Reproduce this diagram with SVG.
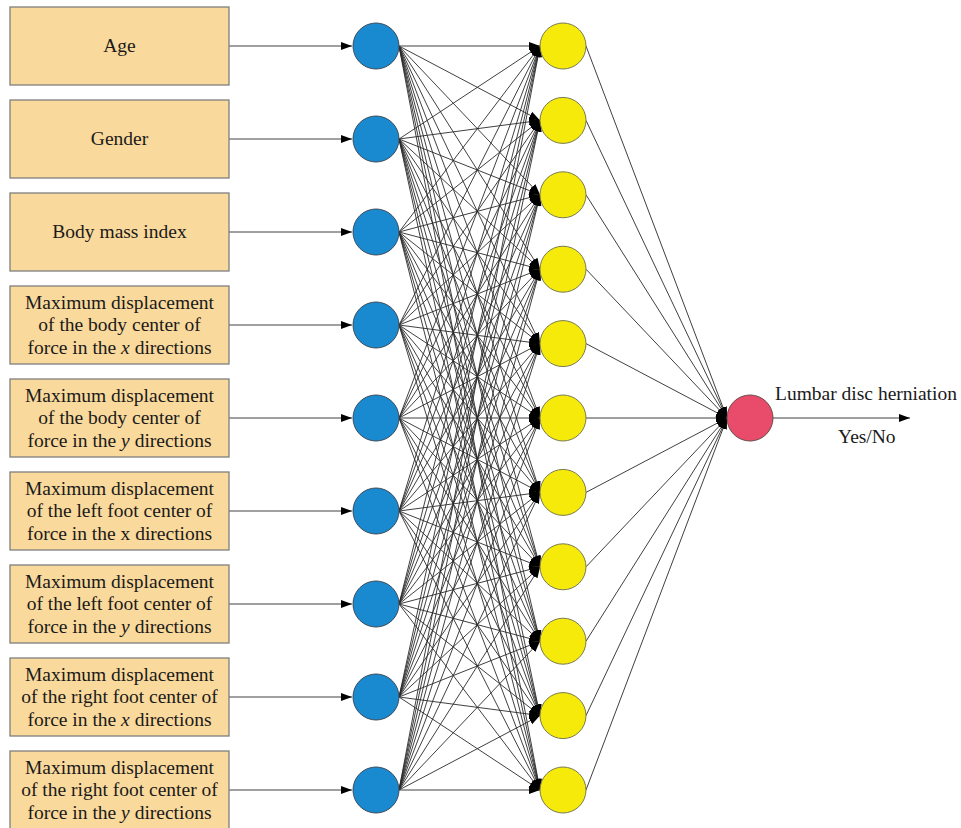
<svg xmlns="http://www.w3.org/2000/svg" width="961" height="828" viewBox="0 0 961 828">
<defs>
<marker id="ah" markerUnits="userSpaceOnUse" markerWidth="12" markerHeight="10" refX="11" refY="4" orient="auto"><path d="M0,0 L11,4 L0,8 Z" fill="#000"/></marker>
<style>
.box{fill:#FAD99C;stroke:#7f7f7f;stroke-width:1.3}
.t{font-family:"Liberation Serif","Times New Roman",serif;font-size:19.5px;fill:#1a1a1a;text-anchor:middle}
.lbl{font-family:"Liberation Serif","Times New Roman",serif;font-size:19.5px;fill:#1a1a1a}
.blue{fill:#1A8AD0;stroke:#3a4a5a;stroke-width:1}
.yel{fill:#F6EA0A;stroke:#7a7a50;stroke-width:1}
.red{fill:#E94B6A;stroke:#6a4a4a;stroke-width:1}
#connectors line{stroke:#2a2a2a;stroke-width:0.9;marker-end:url(#ah)}
</style>
</defs>
<rect width="961" height="828" fill="#fff"/>

<g id="connectors">
<line x1="229" y1="46" x2="352" y2="46"/>
<line x1="229" y1="139" x2="352" y2="139"/>
<line x1="229" y1="232" x2="352" y2="232"/>
<line x1="229" y1="325" x2="352" y2="325"/>
<line x1="229" y1="418" x2="352" y2="418"/>
<line x1="229" y1="511" x2="352" y2="511"/>
<line x1="229" y1="604" x2="352" y2="604"/>
<line x1="229" y1="697" x2="352" y2="697"/>
<line x1="229" y1="790" x2="352" y2="790"/>

<line x1="399" y1="46" x2="540" y2="46"/><line x1="399" y1="46" x2="540" y2="120.4"/><line x1="399" y1="46" x2="540" y2="194.8"/><line x1="399" y1="46" x2="540" y2="269.2"/><line x1="399" y1="46" x2="540" y2="343.6"/><line x1="399" y1="46" x2="540" y2="418"/><line x1="399" y1="46" x2="540" y2="492.4"/><line x1="399" y1="46" x2="540" y2="566.8"/><line x1="399" y1="46" x2="540" y2="641.2"/><line x1="399" y1="46" x2="540" y2="715.6"/><line x1="399" y1="46" x2="540" y2="790"/>
<line x1="399" y1="139" x2="540" y2="46"/><line x1="399" y1="139" x2="540" y2="120.4"/><line x1="399" y1="139" x2="540" y2="194.8"/><line x1="399" y1="139" x2="540" y2="269.2"/><line x1="399" y1="139" x2="540" y2="343.6"/><line x1="399" y1="139" x2="540" y2="418"/><line x1="399" y1="139" x2="540" y2="492.4"/><line x1="399" y1="139" x2="540" y2="566.8"/><line x1="399" y1="139" x2="540" y2="641.2"/><line x1="399" y1="139" x2="540" y2="715.6"/><line x1="399" y1="139" x2="540" y2="790"/>
<line x1="399" y1="232" x2="540" y2="46"/><line x1="399" y1="232" x2="540" y2="120.4"/><line x1="399" y1="232" x2="540" y2="194.8"/><line x1="399" y1="232" x2="540" y2="269.2"/><line x1="399" y1="232" x2="540" y2="343.6"/><line x1="399" y1="232" x2="540" y2="418"/><line x1="399" y1="232" x2="540" y2="492.4"/><line x1="399" y1="232" x2="540" y2="566.8"/><line x1="399" y1="232" x2="540" y2="641.2"/><line x1="399" y1="232" x2="540" y2="715.6"/><line x1="399" y1="232" x2="540" y2="790"/>
<line x1="399" y1="325" x2="540" y2="46"/><line x1="399" y1="325" x2="540" y2="120.4"/><line x1="399" y1="325" x2="540" y2="194.8"/><line x1="399" y1="325" x2="540" y2="269.2"/><line x1="399" y1="325" x2="540" y2="343.6"/><line x1="399" y1="325" x2="540" y2="418"/><line x1="399" y1="325" x2="540" y2="492.4"/><line x1="399" y1="325" x2="540" y2="566.8"/><line x1="399" y1="325" x2="540" y2="641.2"/><line x1="399" y1="325" x2="540" y2="715.6"/><line x1="399" y1="325" x2="540" y2="790"/>
<line x1="399" y1="418" x2="540" y2="46"/><line x1="399" y1="418" x2="540" y2="120.4"/><line x1="399" y1="418" x2="540" y2="194.8"/><line x1="399" y1="418" x2="540" y2="269.2"/><line x1="399" y1="418" x2="540" y2="343.6"/><line x1="399" y1="418" x2="540" y2="418"/><line x1="399" y1="418" x2="540" y2="492.4"/><line x1="399" y1="418" x2="540" y2="566.8"/><line x1="399" y1="418" x2="540" y2="641.2"/><line x1="399" y1="418" x2="540" y2="715.6"/><line x1="399" y1="418" x2="540" y2="790"/>
<line x1="399" y1="511" x2="540" y2="46"/><line x1="399" y1="511" x2="540" y2="120.4"/><line x1="399" y1="511" x2="540" y2="194.8"/><line x1="399" y1="511" x2="540" y2="269.2"/><line x1="399" y1="511" x2="540" y2="343.6"/><line x1="399" y1="511" x2="540" y2="418"/><line x1="399" y1="511" x2="540" y2="492.4"/><line x1="399" y1="511" x2="540" y2="566.8"/><line x1="399" y1="511" x2="540" y2="641.2"/><line x1="399" y1="511" x2="540" y2="715.6"/><line x1="399" y1="511" x2="540" y2="790"/>
<line x1="399" y1="604" x2="540" y2="46"/><line x1="399" y1="604" x2="540" y2="120.4"/><line x1="399" y1="604" x2="540" y2="194.8"/><line x1="399" y1="604" x2="540" y2="269.2"/><line x1="399" y1="604" x2="540" y2="343.6"/><line x1="399" y1="604" x2="540" y2="418"/><line x1="399" y1="604" x2="540" y2="492.4"/><line x1="399" y1="604" x2="540" y2="566.8"/><line x1="399" y1="604" x2="540" y2="641.2"/><line x1="399" y1="604" x2="540" y2="715.6"/><line x1="399" y1="604" x2="540" y2="790"/>
<line x1="399" y1="697" x2="540" y2="46"/><line x1="399" y1="697" x2="540" y2="120.4"/><line x1="399" y1="697" x2="540" y2="194.8"/><line x1="399" y1="697" x2="540" y2="269.2"/><line x1="399" y1="697" x2="540" y2="343.6"/><line x1="399" y1="697" x2="540" y2="418"/><line x1="399" y1="697" x2="540" y2="492.4"/><line x1="399" y1="697" x2="540" y2="566.8"/><line x1="399" y1="697" x2="540" y2="641.2"/><line x1="399" y1="697" x2="540" y2="715.6"/><line x1="399" y1="697" x2="540" y2="790"/>
<line x1="399" y1="790" x2="540" y2="46"/><line x1="399" y1="790" x2="540" y2="120.4"/><line x1="399" y1="790" x2="540" y2="194.8"/><line x1="399" y1="790" x2="540" y2="269.2"/><line x1="399" y1="790" x2="540" y2="343.6"/><line x1="399" y1="790" x2="540" y2="418"/><line x1="399" y1="790" x2="540" y2="492.4"/><line x1="399" y1="790" x2="540" y2="566.8"/><line x1="399" y1="790" x2="540" y2="641.2"/><line x1="399" y1="790" x2="540" y2="715.6"/><line x1="399" y1="790" x2="540" y2="790"/>

<line x1="586" y1="46" x2="727" y2="418"/>
<line x1="586" y1="120.4" x2="727" y2="418"/>
<line x1="586" y1="194.8" x2="727" y2="418"/>
<line x1="586" y1="269.2" x2="727" y2="418"/>
<line x1="586" y1="343.6" x2="727" y2="418"/>
<line x1="586" y1="418" x2="727" y2="418"/>
<line x1="586" y1="492.4" x2="727" y2="418"/>
<line x1="586" y1="566.8" x2="727" y2="418"/>
<line x1="586" y1="641.2" x2="727" y2="418"/>
<line x1="586" y1="715.6" x2="727" y2="418"/>
<line x1="586" y1="790" x2="727" y2="418"/>

<line x1="773" y1="418" x2="910" y2="418"/>
</g>

<g id="in1"><rect class="box" x="10" y="7" width="219" height="78"/><text class="t" x="119.5" y="52">Age</text></g>
<g id="in2"><rect class="box" x="10" y="100" width="219" height="78"/><text class="t" x="119.5" y="145">Gender</text></g>
<g id="in3"><rect class="box" x="10" y="193" width="219" height="78"/><text class="t" x="119.5" y="238">Body mass index</text></g>
<g id="in4"><rect class="box" x="10" y="286" width="219" height="78"/><text class="t" x="119.5"><tspan x="119.5" y="308.5">Maximum displacement</tspan><tspan x="119.5" y="331">of the body center of</tspan><tspan x="119.5" y="353.5">force in the <tspan font-style="italic">x</tspan> directions</tspan></text></g>
<g id="in5"><rect class="box" x="10" y="379" width="219" height="78"/><text class="t" x="119.5"><tspan x="119.5" y="401.5">Maximum displacement</tspan><tspan x="119.5" y="424">of the body center of</tspan><tspan x="119.5" y="446.5">force in the <tspan font-style="italic">y</tspan> directions</tspan></text></g>
<g id="in6"><rect class="box" x="10" y="472" width="219" height="78"/><text class="t" x="119.5"><tspan x="119.5" y="494.5">Maximum displacement</tspan><tspan x="119.5" y="517">of the left foot center of</tspan><tspan x="119.5" y="539.5">force in the x directions</tspan></text></g>
<g id="in7"><rect class="box" x="10" y="565" width="219" height="78"/><text class="t" x="119.5"><tspan x="119.5" y="587.5">Maximum displacement</tspan><tspan x="119.5" y="610">of the left foot center of</tspan><tspan x="119.5" y="632.5">force in the <tspan font-style="italic">y</tspan> directions</tspan></text></g>
<g id="in8"><rect class="box" x="10" y="658" width="219" height="78"/><text class="t" x="119.5"><tspan x="119.5" y="680.5">Maximum displacement</tspan><tspan x="119.5" y="703">of the right foot center of</tspan><tspan x="119.5" y="725.5">force in the <tspan font-style="italic">x</tspan> directions</tspan></text></g>
<g id="in9"><rect class="box" x="10" y="751" width="219" height="78"/><text class="t" x="119.5"><tspan x="119.5" y="773.5">Maximum displacement</tspan><tspan x="119.5" y="796">of the right foot center of</tspan><tspan x="119.5" y="818.5">force in the <tspan font-style="italic">y</tspan> directions</tspan></text></g>

<g id="h1"><circle class="blue" cx="376" cy="46" r="23"/></g>
<g id="h2"><circle class="blue" cx="376" cy="139" r="23"/></g>
<g id="h3"><circle class="blue" cx="376" cy="232" r="23"/></g>
<g id="h4"><circle class="blue" cx="376" cy="325" r="23"/></g>
<g id="h5"><circle class="blue" cx="376" cy="418" r="23"/></g>
<g id="h6"><circle class="blue" cx="376" cy="511" r="23"/></g>
<g id="h7"><circle class="blue" cx="376" cy="604" r="23"/></g>
<g id="h8"><circle class="blue" cx="376" cy="697" r="23"/></g>
<g id="h9"><circle class="blue" cx="376" cy="790" r="23"/></g>

<g id="y1"><circle class="yel" cx="563" cy="46" r="23"/></g>
<g id="y2"><circle class="yel" cx="563" cy="120.4" r="23"/></g>
<g id="y3"><circle class="yel" cx="563" cy="194.8" r="23"/></g>
<g id="y4"><circle class="yel" cx="563" cy="269.2" r="23"/></g>
<g id="y5"><circle class="yel" cx="563" cy="343.6" r="23"/></g>
<g id="y6"><circle class="yel" cx="563" cy="418" r="23"/></g>
<g id="y7"><circle class="yel" cx="563" cy="492.4" r="23"/></g>
<g id="y8"><circle class="yel" cx="563" cy="566.8" r="23"/></g>
<g id="y9"><circle class="yel" cx="563" cy="641.2" r="23"/></g>
<g id="y10"><circle class="yel" cx="563" cy="715.6" r="23"/></g>
<g id="y11"><circle class="yel" cx="563" cy="790" r="23"/></g>

<g id="out"><circle class="red" cx="750" cy="418" r="23"/></g>
<g id="out-label"><text class="lbl" x="775" y="400">Lumbar disc herniation</text><text class="lbl" x="838" y="443">Yes/No</text></g>
</svg>
